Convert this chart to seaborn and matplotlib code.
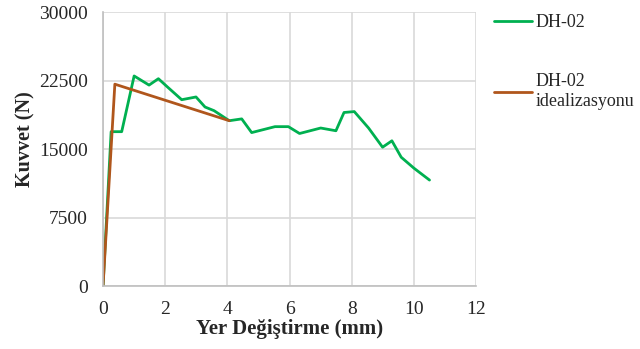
import matplotlib
matplotlib.use("Agg")
import matplotlib.pyplot as plt
import seaborn as sns
import pandas as pd

# Measured load-displacement curve of specimen DH-02
dh02_disp = [0.0, 0.26, 0.6, 1.0, 1.48, 1.78, 2.07, 2.53, 2.99, 3.28, 3.57, 4.06,
             4.46, 4.78, 5.53, 5.96, 6.32, 7.0, 7.49, 7.75, 8.08, 8.54, 8.99,
             9.29, 9.59, 10.0, 10.5]
dh02_force = [0, 16900, 16900, 23000, 22000, 22700, 21800, 20400, 20700, 19600,
              19200, 18100, 18300, 16800, 17450, 17450, 16700, 17300, 17000,
              19000, 19100, 17300, 15200, 15900, 14100, 12900, 11600]

# Bilinear idealization of the same curve
ideal_disp = [0.0, 0.38, 4.06]
ideal_force = [0, 22100, 18100]

series_names = ["DH-02", "DH-02\nidealizasyonu"]
x_ticks = [0, 2, 4, 6, 8, 10, 12]
y_ticks = [0, 7500, 15000, 22500, 30000]

df = pd.concat([
    pd.DataFrame({"disp": dh02_disp, "force": dh02_force, "seri": series_names[0]}),
    pd.DataFrame({"disp": ideal_disp, "force": ideal_force, "seri": series_names[1]}),
], ignore_index=True)

sns.set_theme(style="white")
plt.rcParams["font.family"] = ["Liberation Serif", "DejaVu Serif"]

fig = plt.figure(figsize=(6.4, 3.49), dpi=100)
ax = fig.add_axes([0.161, 0.1805, 0.583, 0.785])

sns.lineplot(data=df, x="disp", y="force", hue="seri", sort=False,
             palette=["#00B050", "#B0561C"], linewidth=2.0, ax=ax, legend=False)

ax.set_xlim(0, 12)
ax.set_ylim(0, 30000)
ax.set_xticks(x_ticks)
ax.set_yticks(y_ticks)
ax.set_xticklabels([str(v) for v in x_ticks], fontsize=14, color="#262626")
ax.set_yticklabels([str(v) for v in y_ticks], fontsize=14, color="#262626")
ax.tick_params(axis="y", length=0, pad=11)
ax.tick_params(axis="x", length=0, pad=11)
ax.grid(True, color="#d9d9d9", linewidth=1.2)
ax.set_axisbelow(True)
for side in ["top", "right"]:
    ax.spines[side].set_visible(False)
for side in ["left", "bottom"]:
    ax.spines[side].set_color("#bfbfbf")
    ax.spines[side].set_linewidth(1.2)

ax.set_xlabel("Yer Değiştirme (mm)", fontsize=15, fontweight="bold", labelpad=0.5)
ax.set_ylabel("Kuvvet (N)", fontsize=14.5, fontweight="bold")
ax.yaxis.set_label_coords(-0.18, 0.536)

handles = [plt.Line2D([], [], color="#00B050", linewidth=2.0),
           plt.Line2D([], [], color="#B0561C", linewidth=2.0)]
fig.legend(handles, series_names, loc="upper left", bbox_to_anchor=(0.76, 0.981),
           borderaxespad=0, frameon=False, fontsize=13, handlelength=2.1,
           handletextpad=0.22, labelspacing=2.35, alignment="left")

fig.savefig("out.png", dpi=100)
